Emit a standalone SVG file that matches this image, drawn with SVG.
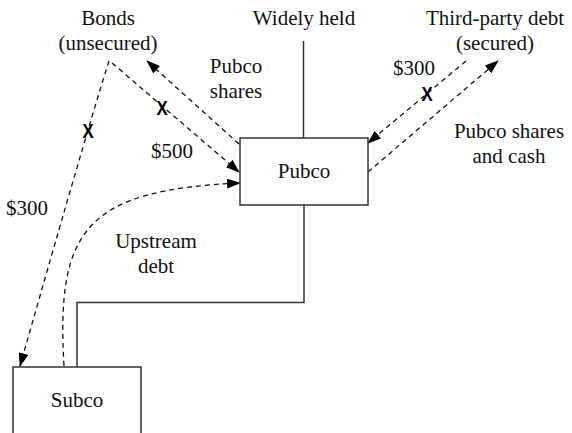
<svg xmlns="http://www.w3.org/2000/svg" width="572" height="433" viewBox="0 0 572 433">
<style>
.t{font-family:'Liberation Serif','Times New Roman',serif;font-size:21px;fill:#111;text-anchor:middle}
.x{font-family:'Liberation Sans',Arial,sans-serif;font-size:21px;font-weight:bold;fill:#000;text-anchor:middle}
.box{fill:#fff;stroke:#333;stroke-width:1.5}
.solid{fill:none;stroke:#333;stroke-width:1.5}
.dash{fill:none;stroke:#111;stroke-width:1.3;stroke-dasharray:5,4}
</style>
<defs>
<marker id="ah" viewBox="0 0 14 10" refX="13" refY="5" markerWidth="14" markerHeight="10" markerUnits="userSpaceOnUse" orient="auto">
<path d="M0,0 L14,5 L0,10 Z" fill="#000"/>
</marker>
</defs>
<rect width="572" height="433" fill="#fff"/>
<g id="connectors">
<path class="solid" d="M303.5,41 V138"/>
<path class="solid" d="M304,205 V302.5 H77 V367"/>
<path class="dash" d="M109,61 Q90,120 20,366" marker-end="url(#ah)"/>
<path class="dash" d="M112,63 L239,172" marker-end="url(#ah)"/>
<path class="dash" d="M239,144 L147,61" marker-end="url(#ah)"/>
<path class="dash" d="M64,366 C56,230 85,190 240,183" marker-end="url(#ah)"/>
<path class="dash" d="M466,61 L368,143" marker-end="url(#ah)"/>
<path class="dash" d="M368,172 L498,61" marker-end="url(#ah)"/>
<text class="x" x="88" y="138" transform="translate(88 0) scale(0.8 1) translate(-88 0)">X</text>
<text class="x" x="162" y="115" transform="translate(162 0) scale(0.8 1) translate(-162 0)">X</text>
<text class="x" x="427" y="101" transform="translate(427 0) scale(0.8 1) translate(-427 0)">X</text>
<text class="t" x="172" y="158">$500</text>
<text class="t" x="27" y="215">$300</text>
<text class="t" x="414" y="75">$300</text>
<text class="t" x="236" y="73">Pubco</text>
<text class="t" x="236" y="98">shares</text>
<text class="t" x="509" y="138">Pubco shares</text>
<text class="t" x="509" y="163">and cash</text>
<text class="t" x="156" y="248">Upstream</text>
<text class="t" x="156" y="273">debt</text>
</g>
<g id="widely-held"><text class="t" x="304" y="25">Widely held</text></g>
<g id="bonds"><text class="t" x="108" y="25">Bonds</text><text class="t" x="108" y="50">(unsecured)</text></g>
<g id="third-party"><text class="t" x="495" y="25">Third-party debt</text><text class="t" x="495" y="50">(secured)</text></g>
<g id="pubco"><rect class="box" x="240" y="138" width="128" height="67"/><text class="t" x="304" y="178">Pubco</text></g>
<g id="subco"><rect class="box" x="13" y="367" width="128" height="80"/><text class="t" x="77" y="407">Subco</text></g>
</svg>
